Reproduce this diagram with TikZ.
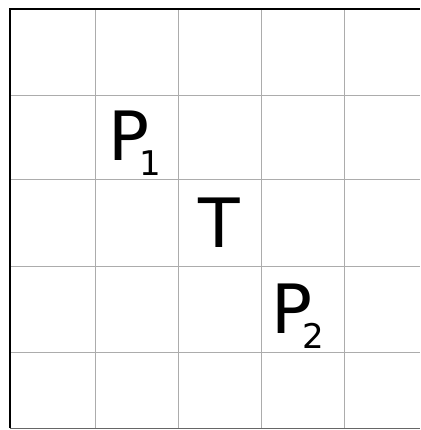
\documentclass[tikz,border=0pt]{standalone}
\usepackage{fontspec}
\setmainfont{DejaVu Sans}
\begin{document}
\begin{tikzpicture}[x=1pt, y=-1pt,
    gridline/.style={gray!65, line width=0.9pt},
    frame/.style={black, line width=2.6pt},
    lettr/.style={inner sep=0pt, anchor=base west,
                  font=\fontsize{68}{80}\selectfont},
  ]
  \useasboundingbox (0,0) rectangle (420,430);

  % ── grid ──────────────────────────────────────
  \foreach \x in {95,178,261,344}
    \draw[gridline] (\x,9) -- (\x,428);
  \foreach \y in {95,179,266,352}
    \draw[gridline] (10,\y) -- (420,\y);
  \draw[gridline, gray!80!black] (10,428) -- (420,428);

  % ── outer frame ───────────────────────────────
  \draw[frame] (10,428) -- (10,9) -- (420,9);

  % ── labels ────────────────────────────────────
  \node[lettr] (p1) at (108,161)
        {P\kern-10pt\raisebox{-14pt}{\fontsize{34}{40}\selectfont 1}};
  \node[lettr] (t)  at (198,247) {T};
  \node[lettr] (p2) at (271,333)
        {P\kern-10pt\raisebox{-15pt}{\fontsize{34}{40}\selectfont 2}};

\end{tikzpicture}
\end{document}
